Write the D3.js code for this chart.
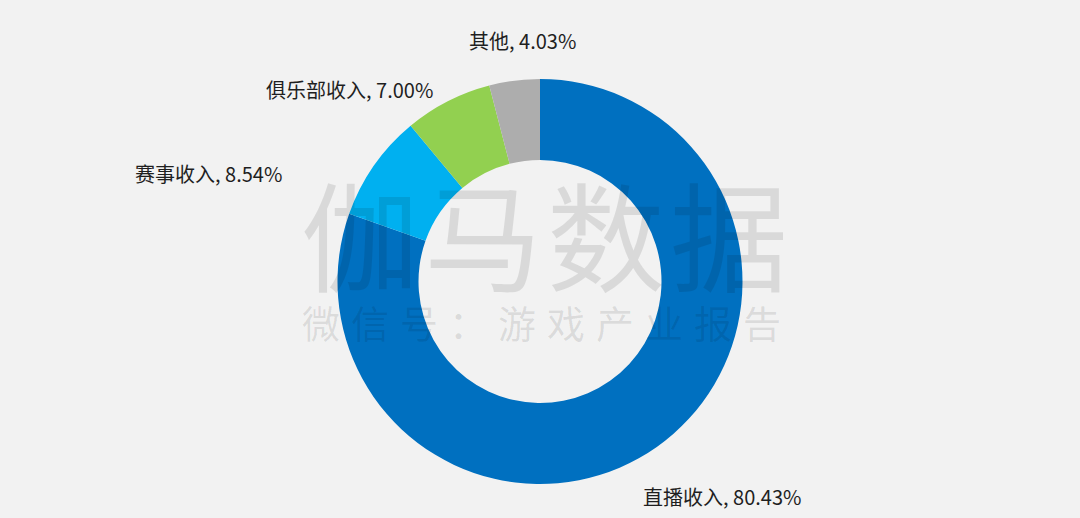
<!DOCTYPE html>
<html>
<head>
<meta charset="utf-8">
<script src="https://cdn.jsdelivr.net/npm/d3@7"></script>
<style>
  html, body { margin: 0; padding: 0; background: #F2F2F2; }
  svg { display: block; }
</style>
</head>
<body>
<svg id="chart" width="1080" height="518"></svg>
<script>
// ---- data ----
const categories = ["直播收入", "赛事收入", "俱乐部收入", "其他"];
const shares = [80.43, 8.54, 7.00, 4.03];
const labelTexts = ["直播收入, 80.43%", "赛事收入, 8.54%", "俱乐部收入, 7.00%", "其他, 4.03%"];

// ---- styles / layout (kept separate from data) ----
const colors = ["#0070C0", "#00B0F0", "#92D050", "#ADADAD"];
const labelOffsets = [[103, 223.5], [-405, -99.5], [-274, -184], [-71, -233]]; // label start / baseline relative to centre
const W = 1080, H = 518;
const cx = 540, cy = 281.5, outerR = 202.5, innerR = 121.5;

const svg = d3.select("#chart");
svg.append("rect").attr("width", W).attr("height", H).attr("fill", "#F2F2F2");

const data = categories.map((c, i) => ({ name: c, value: shares[i], label: labelTexts[i], i }));

const pie = d3.pie().value(d => d.value).sort(null);
const arc = d3.arc().innerRadius(innerR).outerRadius(outerR);
const color = d3.scaleOrdinal().domain(categories).range(colors);

const g = svg.append("g").attr("transform", `translate(${cx},${cy})`);
g.selectAll("path.slice")
  .data(pie(data))
  .join("path")
  .attr("class", "slice")
  .attr("d", arc)
  .attr("fill", d => color(d.data.name));

// labels
g.selectAll("text.lbl")
  .data(data)
  .join("text")
  .attr("class", "lbl")
  .attr("x", d => labelOffsets[d.i][0])
  .attr("y", d => labelOffsets[d.i][1])
  .attr("text-anchor", "start")
  .attr("font-family", "'Noto Sans CJK SC', 'Noto Sans', sans-serif")
  .attr("font-size", 20)
  .attr("fill", "#1f1f1f")
  .text(d => d.label);

// watermark
const wm = svg.append("g").attr("fill", "#000").attr("fill-opacity", 0.1)
  .attr("font-family", "'Noto Sans CJK SC', sans-serif");
wm.append("text")
  .attr("x", 301).attr("y", 283)
  .attr("font-size", 118)
  .attr("letter-spacing", 5)
  .text("伽马数据");
wm.append("text")
  .attr("x", 302).attr("y", 338)
  .attr("font-size", 38)
  .attr("letter-spacing", 11)
  .text("微信号：游戏产业报告");
</script>
</body>
</html>
